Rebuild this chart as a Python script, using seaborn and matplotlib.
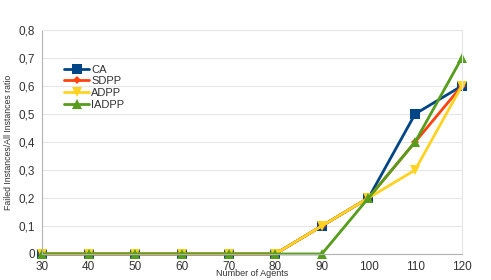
import matplotlib
matplotlib.use("Agg")
import matplotlib.pyplot as plt
import seaborn as sns
import pandas as pd

agents = [30, 40, 50, 60, 70, 80, 90, 100, 110, 120]
ca = [0, 0, 0, 0, 0, 0, 0.1, 0.2, 0.5, 0.6]
sdpp = [0, 0, 0, 0, 0, 0, 0.1, 0.2, 0.4, 0.6]
adpp = [0, 0, 0, 0, 0, 0, 0.1, 0.2, 0.3, 0.6]
iadpp = [0, 0, 0, 0, 0, 0, 0, 0.2, 0.4, 0.7]
series_names = ["CA", "SDPP", "ADPP", "IADPP"]
yticks = [0, 0.1, 0.2, 0.3, 0.4, 0.5, 0.6, 0.7, 0.8]
ytick_labels = ["0", "0,1", "0,2", "0,3", "0,4", "0,5", "0,6", "0,7", "0,8"]

rows = []
for name, vals in zip(series_names, [ca, sdpp, adpp, iadpp]):
    for a, v in zip(agents, vals):
        rows.append({"agents": a, "ratio": v, "series": name})
df = pd.DataFrame(rows)

sns.set_theme(style="white")
plt.rcParams['font.family'] = ['Liberation Sans', 'DejaVu Sans']

fig = plt.figure(figsize=(4.91, 2.80), dpi=100)
ax = fig.add_axes([0.0855, 0.093, 0.855, 0.80])

palette = {"CA": "#004586", "SDPP": "#ff420e", "ADPP": "#ffd320", "IADPP": "#579d1c"}
markers = {"CA": "s", "SDPP": "D", "ADPP": "v", "IADPP": "^"}
sizes = {"CA": 7, "SDPP": 4.5, "ADPP": 7, "IADPP": 7}

for name in series_names:
    sub = df[df["series"] == name]
    sns.lineplot(data=sub, x="agents", y="ratio", color=palette[name], marker=markers[name],
                 markersize=sizes[name], markeredgewidth=0, linewidth=2, label=name, ax=ax,
                 clip_on=False)

ax.set_xlim(30, 120)
ax.set_ylim(0, 0.8)
ax.set_xticks(agents)
ax.set_xticklabels([str(a) for a in agents], fontsize=8.5, color="#333333")
ax.set_yticks(yticks)
ax.set_yticklabels(ytick_labels, fontsize=8.5, color="#333333")
ax.tick_params(length=0, pad=5)
ax.yaxis.grid(True, color="#e6e6e6", linewidth=0.8)
ax.set_axisbelow(True)
for s in ["top", "right"]:
    ax.spines[s].set_color("#e6e6e6")
    ax.spines[s].set_linewidth(0.8)
for s in ["left", "bottom"]:
    ax.spines[s].set_color("#b3b3b3")
    ax.spines[s].set_linewidth(0.8)

ax.set_xlabel("Number of Agents", fontsize=6.5, color="#333333", labelpad=-3)
ax.set_ylabel("Failed Instances/All Instances ratio", fontsize=6.3, color="#333333", labelpad=4)

leg = ax.legend(loc="upper left", bbox_to_anchor=(0.035, 0.88), frameon=False, fontsize=8,
                handlelength=2.2, handletextpad=0.2, labelspacing=0.15, borderpad=0.2)
for t in leg.get_texts():
    t.set_color("#333333")

fig.savefig("out.png", dpi=100)
